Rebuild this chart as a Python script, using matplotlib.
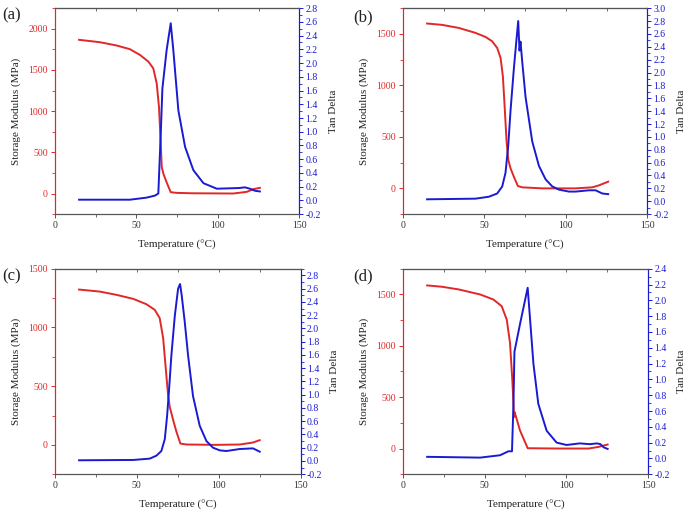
import matplotlib
matplotlib.use('Agg')
import matplotlib.pyplot as plt
from matplotlib.ticker import MultipleLocator

plt.rcParams['font.family'] = ['Liberation Serif', 'DejaVu Serif']

RED = '#e02828'
BLUE = '#1a1ad2'
GRAY = '#555555'

# (a)
a_mod_T = [14.9, 27.6, 37.9, 46.1, 52.2, 57.4, 60.4, 62.5, 63.9, 64.9, 65.6, 66.6, 68.5, 71.1, 74.7, 84.0, 109.5, 117.7, 121.8, 125.8]
a_mod = [1866, 1837, 1797, 1752, 1683, 1601, 1520, 1338, 1052, 646, 321, 240, 140, 16, 8, 3, 0, 20, 53, 69]
a_tan_T = [14.9, 46.1, 56.3, 61.5, 63.5, 65.0, 66.0, 68.6, 71.1, 72.7, 75.8, 79.9, 85.0, 91.2, 99.4, 113.0, 116.6, 119.7, 122.8, 125.8]
a_tan = [0.01, 0.01, 0.04, 0.07, 0.10, 0.98, 1.63, 2.19, 2.58, 2.19, 1.31, 0.78, 0.44, 0.25, 0.17, 0.18, 0.19, 0.17, 0.14, 0.13]

# (b)
b_mod_T = [14.9, 24.1, 34.4, 44.6, 50.7, 54.8, 57.9, 60.0, 61.4, 62.6, 63.6, 64.7, 66.1, 68.1, 70.6, 73.3, 85.5, 106.0, 116.2, 120.3, 124.4, 126.0]
b_mod = [1601, 1588, 1558, 1510, 1471, 1429, 1364, 1266, 1088, 763, 471, 276, 195, 114, 23, 10, 0, 0, 10, 29, 55, 65]
b_tan_T = [14.9, 44.6, 52.8, 57.9, 61.0, 63.0, 64.7, 66.1, 68.1, 69.8, 70.8, 71.6, 72.2, 73.3, 75.3, 79.4, 83.5, 87.6, 91.7, 95.8, 101.9, 106.0, 114.2, 118.3, 122.4, 126.0]
b_tan = [0.03, 0.04, 0.07, 0.12, 0.23, 0.44, 0.87, 1.41, 2.05, 2.53, 2.80, 2.34, 2.48, 2.16, 1.62, 0.93, 0.55, 0.34, 0.23, 0.18, 0.15, 0.15, 0.17, 0.17, 0.12, 0.11]

# (c)
c_mod_T = [14.8, 27.4, 37.6, 47.8, 55.9, 61.0, 64.0, 66.1, 67.5, 69.1, 70.1, 72.2, 74.2, 76.6, 80.3, 98.6, 112.8, 120.9, 125.0]
c_mod = [1323, 1306, 1278, 1244, 1198, 1150, 1079, 908, 680, 424, 324, 211, 111, 11, 3, 0, 3, 20, 40]
c_tan_T = [14.8, 47.8, 57.9, 62.0, 65.0, 67.1, 68.5, 69.7, 71.1, 73.2, 75.2, 76.4, 77.4, 79.3, 81.3, 84.3, 88.4, 92.5, 96.5, 100.6, 104.7, 112.8, 120.9, 125.0]
c_tan = [0.01, 0.015, 0.035, 0.08, 0.15, 0.33, 0.68, 1.08, 1.59, 2.19, 2.60, 2.67, 2.50, 2.09, 1.59, 0.98, 0.53, 0.30, 0.20, 0.16, 0.15, 0.18, 0.19, 0.14]

# (d)
d_mod_T = [14.9, 24.0, 34.2, 47.3, 55.4, 60.5, 63.6, 65.6, 67.0, 68.1, 68.4, 71.7, 76.4, 95.4, 113.7, 119.8, 125.3]
d_mod = [1588, 1575, 1549, 1500, 1451, 1386, 1255, 1026, 667, 307, 355, 176, 3, 0, 0, 16, 39]
d_tan_T = [14.9, 47.3, 59.5, 64.6, 66.8, 67.7, 68.3, 71.8, 76.4, 77.9, 79.9, 82.9, 88.0, 94.1, 100.2, 108.3, 114.4, 118.8, 120.9, 122.9, 125.3]
d_tan = [0.02, 0.01, 0.04, 0.09, 0.09, 0.69, 1.35, 1.71, 2.16, 1.75, 1.20, 0.69, 0.35, 0.20, 0.17, 0.19, 0.18, 0.19, 0.18, 0.14, 0.12]

panels = [
    ('(a)', [0.080, 0.581, 0.357, 0.403], a_mod_T, a_mod, a_tan_T, a_tan, (-250, 2250), (-0.2, 2.8), (0.004, 0.970)),
    ('(b)', [0.588, 0.581, 0.357, 0.403], b_mod_T, b_mod, b_tan_T, b_tan, (-250, 1750), (-0.2, 3.0), (0.516, 0.966)),
    ('(c)', [0.080, 0.072, 0.359, 0.402], c_mod_T, c_mod, c_tan_T, c_tan, (-250, 1500), (-0.2, 2.9), (0.004, 0.459)),
    ('(d)', [0.588, 0.072, 0.358, 0.402], d_mod_T, d_mod, d_tan_T, d_tan, (-250, 1750), (-0.2, 2.4), (0.516, 0.459)),
]

fig = plt.figure(figsize=(6.85, 5.11), dpi=100)

for tag, pos, mT, mod, tT, tan, ylim, tlim, tagpos in panels:
    ax = fig.add_axes(pos)
    ax2 = ax.twinx()

    ax.plot(mT, mod, color=RED, lw=1.4)
    ax2.plot(tT, tan, color=BLUE, lw=1.4)

    ax.set_xlim(0, 150)
    ax.set_ylim(*ylim)
    ax2.set_ylim(*tlim)

    ax.xaxis.set_major_locator(MultipleLocator(50))
    ax.xaxis.set_minor_locator(MultipleLocator(25))
    ax.yaxis.set_major_locator(MultipleLocator(500))
    ax.yaxis.set_minor_locator(MultipleLocator(250))
    ax2.yaxis.set_major_locator(MultipleLocator(0.2))
    ax2.yaxis.set_minor_locator(MultipleLocator(0.1))
    ax2.yaxis.set_major_formatter(lambda v, p: f'{v:.1f}')

    for a in (ax, ax2):
        a.spines['top'].set_color(GRAY)
        a.spines['bottom'].set_color(GRAY)
        a.spines['left'].set_color(RED)
        a.spines['right'].set_color(BLUE)
        for s in a.spines.values():
            s.set_linewidth(0.8)

    ax.tick_params(axis='x', which='major', length=3, width=0.7, colors=GRAY,
                   labelsize=7, labelcolor='#333333', pad=2)
    ax.tick_params(axis='x', which='minor', length=2, width=0.6, colors=GRAY)
    ax.tick_params(axis='y', which='major', length=3, width=0.7, colors=RED,
                   labelsize=7, pad=2)
    ax.tick_params(axis='y', which='minor', length=2, width=0.6, colors=RED)
    ax2.tick_params(axis='y', which='major', length=3, width=0.7, colors=BLUE,
                    labelsize=7, pad=1.5)
    ax2.tick_params(axis='y', which='minor', length=2, width=0.6, colors=BLUE)

    top = ax.secondary_xaxis('top')
    top.xaxis.set_major_locator(MultipleLocator(25))
    top.tick_params(direction='in', length=2, width=0.6, colors=GRAY, labeltop=False)
    top.spines['top'].set_color(GRAY)
    top.spines['top'].set_linewidth(0.8)

    ax.set_xlabel('Temperature (°C)', fontsize=8, color='#222222')
    ax.set_ylabel('Storage Modulus (MPa)', fontsize=8, color='#222222')
    ax2.set_ylabel('Tan Delta', fontsize=8, color='#222222')
    ax.xaxis.set_label_coords(0.5, -0.125)
    ax.yaxis.set_label_coords(-0.137, 0.5)
    ax2.yaxis.set_label_coords(1.12, 0.5)

    fig.text(tagpos[0], tagpos[1], tag, fontsize=12, ha='left', va='center', color='#222222')

fig.savefig('out.png', dpi=100)
